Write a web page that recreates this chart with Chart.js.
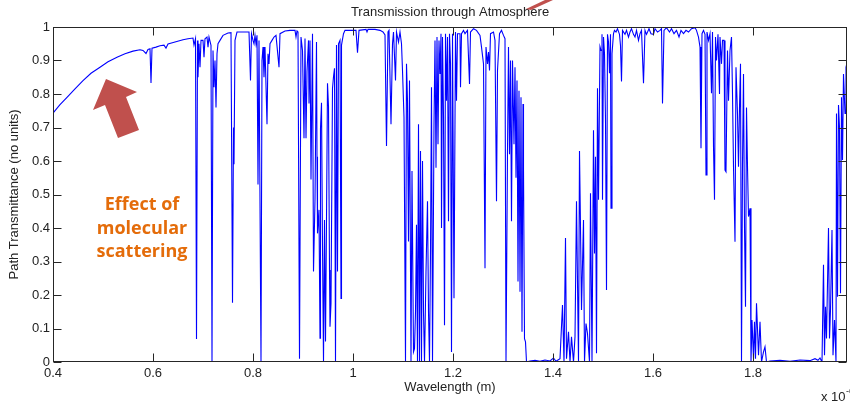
<!DOCTYPE html>
<html>
<head>
<meta charset="utf-8">
<script src="https://cdn.jsdelivr.net/npm/chart.js@4.4.0/dist/chart.umd.min.js"></script>
<style>
  html, body { margin: 0; padding: 0; background: #fff; }
  #wrap { position: relative; width: 850px; height: 402px; }
</style>
</head>
<body>
<div id="wrap"><canvas id="trans"></canvas></div>
<script>
// wavelength in micrometres (axis shows x 10^-6 m)
const wavelength = [
  0.400, 0.414, 0.428, 0.444, 0.460, 0.476, 0.494, 0.510, 0.528, 0.544, 0.560, 0.574, 0.580, 0.586,
  0.590, 0.594, 0.596, 0.598, 0.606, 0.614, 0.622, 0.626, 0.630, 0.644, 0.660, 0.670, 0.680,
  0.682, 0.685, 0.687, 0.689, 0.690, 0.692, 0.694, 0.696, 0.700, 0.702, 0.704, 0.708, 0.710, 0.712,
  0.716, 0.718, 0.720, 0.722, 0.724, 0.726, 0.728, 0.730, 0.734, 0.740, 0.750, 0.756, 0.759, 0.761, 0.762, 0.764,
  0.768, 0.784, 0.792, 0.795, 0.797, 0.800, 0.802, 0.804, 0.806, 0.808, 0.810, 0.812, 0.816,
  0.818, 0.820, 0.822, 0.824, 0.828, 0.830, 0.832, 0.834, 0.838, 0.842, 0.846, 0.852, 0.854,
  0.864, 0.874, 0.884, 0.886, 0.888, 0.890,
  0.893, 0.896, 0.899, 0.902, 0.904, 0.906, 0.908, 0.911, 0.912, 0.914, 0.916, 0.919,
  0.921, 0.924, 0.927, 0.928, 0.929, 0.932, 0.934, 0.935, 0.937, 0.939, 0.941, 0.943,
  0.945, 0.947, 0.949, 0.951, 0.953, 0.954, 0.956, 0.959, 0.961, 0.963, 0.965, 0.967,
  0.969, 0.971, 0.974, 0.976, 0.977, 0.981, 0.984,
  0.994, 1.006, 1.009, 1.012, 1.026, 1.028, 1.030, 1.044, 1.054, 1.060, 1.064,
  1.067, 1.070, 1.072, 1.076, 1.079, 1.081, 1.085, 1.087, 1.091, 1.094, 1.097, 1.099, 1.102,
  1.105, 1.107, 1.109, 1.111, 1.113, 1.116, 1.118, 1.121, 1.123, 1.125, 1.127, 1.129, 1.131,
  1.133, 1.135, 1.137, 1.139, 1.141, 1.143, 1.146, 1.149, 1.151, 1.153, 1.155, 1.157, 1.159,
  1.162, 1.164, 1.166, 1.168, 1.170, 1.172, 1.174, 1.176, 1.177, 1.179, 1.181, 1.183, 1.185,
  1.187, 1.189, 1.191, 1.193, 1.195, 1.197, 1.199, 1.202, 1.205, 1.207, 1.209, 1.214, 1.215, 1.217,
  1.221, 1.224, 1.229, 1.233, 1.235, 1.241, 1.247, 1.254, 1.257, 1.261, 1.264, 1.266, 1.269,
  1.271, 1.273, 1.275, 1.281, 1.284, 1.287, 1.289, 1.293, 1.297, 1.301, 1.304,
  1.306, 1.309, 1.311, 1.313, 1.315, 1.317, 1.319, 1.322, 1.324, 1.326, 1.328, 1.330,
  1.332, 1.334, 1.336, 1.338, 1.340, 1.341, 1.343, 1.345, 1.347,
  1.354, 1.364, 1.374, 1.384, 1.394, 1.401, 1.406, 1.414, 1.419, 1.422, 1.425, 1.427,
  1.431, 1.434, 1.437, 1.441, 1.444, 1.447, 1.451, 1.453, 1.455, 1.457, 1.461, 1.463,
  1.466, 1.469, 1.473, 1.475, 1.478, 1.481, 1.483, 1.485, 1.487, 1.489, 1.491,
  1.494, 1.496, 1.498, 1.499, 1.501, 1.503, 1.505, 1.507, 1.509, 1.511, 1.513, 1.515, 1.516, 1.518,
  1.521, 1.523, 1.526, 1.529, 1.533, 1.535, 1.537, 1.539, 1.544, 1.547, 1.551, 1.554, 1.557,
  1.561, 1.564, 1.567, 1.571, 1.574, 1.577, 1.581, 1.584, 1.587, 1.592, 1.596, 1.601, 1.604,
  1.609, 1.614, 1.617, 1.619, 1.622, 1.627, 1.633, 1.637, 1.642, 1.647, 1.652, 1.656, 1.661,
  1.666, 1.671, 1.677, 1.684, 1.687, 1.691, 1.694, 1.696, 1.698, 1.701, 1.704, 1.706, 1.708,
  1.711, 1.714, 1.717, 1.719, 1.721, 1.723, 1.725, 1.727, 1.730, 1.733, 1.734, 1.737, 1.739,
  1.742, 1.744, 1.746, 1.749, 1.751, 1.754, 1.757, 1.759, 1.761, 1.764, 1.766, 1.769, 1.771, 1.773,
  1.775, 1.777, 1.779, 1.781, 1.783, 1.785, 1.787, 1.789, 1.791, 1.794, 1.796, 1.798,
  1.801, 1.803, 1.805, 1.807, 1.811, 1.814, 1.817, 1.821, 1.824, 1.827,
  1.834, 1.854, 1.874, 1.894, 1.914, 1.924, 1.930, 1.934, 1.938,
  1.941, 1.943, 1.945, 1.947, 1.951, 1.953, 1.955, 1.958, 1.960, 1.963, 1.966,
  1.967, 1.969, 1.971, 1.973, 1.975, 1.977, 1.979, 1.981, 1.984, 1.986, 1.989
];

// path transmittance, same order as wavelength
const transmittance = [
  0.743, 0.768, 0.790, 0.815, 0.840, 0.862, 0.880, 0.896, 0.910, 0.920, 0.928, 0.932, 0.930, 0.921,
  0.933, 0.935, 0.833, 0.937, 0.940, 0.944, 0.946, 0.937, 0.949, 0.955, 0.962, 0.965, 0.967,
  0.946, 0.965, 0.069, 0.960, 0.850, 0.950, 0.880, 0.960, 0.960, 0.910, 0.965, 0.970, 0.940, 0.970,
  0.945, 0.000, 0.930, 0.820, 0.900, 0.760, 0.920, 0.950, 0.960, 0.975, 0.982, 0.983, 0.177, 0.700, 0.590, 0.960,
  0.985, 0.985, 0.985, 0.840, 0.980, 0.960, 0.950, 0.975, 0.950, 0.975, 0.530, 0.960, 0.000,
  0.900, 0.940, 0.850, 0.940, 0.710, 0.920, 0.890, 0.950, 0.960, 0.970, 0.975, 0.880, 0.980,
  0.988, 0.990, 0.990, 0.970, 0.988, 0.985,
  0.010, 0.970, 0.930, 0.668, 0.966, 0.668, 0.867, 0.960, 0.772, 0.960, 0.545, 0.980,
  0.270, 0.484, 0.955, 0.613, 0.384, 0.454, 0.071, 0.698, 0.774, 0.344, 0.000, 0.424,
  0.061, 0.424, 0.832, 0.762, 0.275, 0.105, 0.175, 0.817, 0.851, 0.877, 0.003, 0.946,
  0.270, 0.950, 0.960, 0.190, 0.946, 0.980, 0.990,
  0.990, 0.990, 0.923, 0.990, 0.993, 0.985, 0.993, 0.993, 0.990, 0.985, 0.976,
  0.645, 0.985, 0.990, 0.710, 0.950, 0.985, 0.840, 0.985, 0.955, 0.985, 0.950, 0.870, 0.730,
  0.000, 0.890, 0.780, 0.360, 0.840, 0.000, 0.570, 0.030, 0.040, 0.150, 0.410, 0.000, 0.710,
  0.000, 0.630, 0.000, 0.600, 0.150, 0.000, 0.270, 0.480, 0.150, 0.000, 0.330, 0.820, 0.000,
  0.710, 0.960, 0.580, 0.970, 0.650, 0.960, 0.860, 0.980, 0.400, 0.970, 0.730, 0.110, 0.980,
  0.780, 0.970, 0.420, 0.980, 0.890, 0.030, 0.980, 0.190, 0.985, 0.780, 0.980, 0.980, 0.820, 0.980,
  0.990, 0.980, 0.990, 0.830, 0.985, 0.995, 0.990, 0.975, 0.940, 0.890, 0.280, 0.940, 0.890,
  0.925, 0.870, 0.980, 0.985, 0.960, 0.480, 0.870, 0.980, 0.990, 0.975, 0.965,
  0.000, 0.630, 0.940, 0.620, 0.900, 0.420, 0.900, 0.650, 0.880, 0.550, 0.840, 0.240,
  0.810, 0.210, 0.790, 0.090, 0.770, 0.580, 0.070, 0.060, 0.000,
  0.003, 0.005, 0.002, 0.006, 0.003, 0.012, 0.002, 0.010, 0.170, 0.000, 0.370, 0.010,
  0.090, 0.000, 0.075, 0.000, 0.075, 0.480, 0.000, 0.630, 0.400, 0.155, 0.424, 0.000,
  0.115, 0.085, 0.000, 0.504, 0.000, 0.692, 0.324, 0.613, 0.026, 0.817, 0.484,
  0.941, 0.930, 0.978, 0.484, 0.970, 0.920, 0.722, 0.215, 0.978, 0.955, 0.862, 0.978, 0.459, 0.920,
  0.980, 0.990, 0.985, 0.995, 0.978, 0.945, 0.837, 0.990, 0.978, 0.990, 0.970, 0.985, 0.995,
  0.978, 0.970, 0.990, 0.960, 0.980, 0.990, 0.832, 0.990, 0.978, 0.995, 0.980, 0.978, 0.995,
  0.985, 0.990, 0.995, 0.772, 0.990, 0.998, 0.985, 0.995, 0.980, 0.990, 0.970, 0.990, 0.980,
  0.990, 0.985, 0.995, 0.998, 0.990, 0.970, 0.940, 0.638, 0.980, 0.990, 0.978, 0.558, 0.985,
  0.960, 0.980, 0.802, 0.985, 0.643, 0.484, 0.970, 0.900, 0.978, 0.800, 0.970, 0.890, 0.960,
  0.960, 0.573, 0.568, 0.930, 0.780, 0.930, 0.970, 0.800, 0.583, 0.359, 0.880, 0.740, 0.583, 0.760,
  0.890, 0.000, 0.590, 0.860, 0.404, 0.165, 0.760, 0.583, 0.434, 0.459, 0.000, 0.125,
  0.010, 0.120, 0.010, 0.175, 0.020, 0.120, 0.000, 0.030, 0.045, 0.000,
  0.003, 0.005, 0.002, 0.006, 0.004, 0.010, 0.005, 0.012, 0.000,
  0.290, 0.020, 0.165, 0.070, 0.400, 0.070, 0.155, 0.394, 0.020, 0.125, 0.000,
  0.742, 0.195, 0.767, 0.700, 0.205, 0.790, 0.603, 0.860, 0.742, 0.880, 0.900
];

const xTicks = [0.4, 0.6, 0.8, 1.0, 1.2, 1.4, 1.6, 1.8];
const xTickLabels = ["0.4", "0.6", "0.8", "1", "1.2", "1.4", "1.6", "1.8"];
const yTicks = [0, 0.1, 0.2, 0.3, 0.4, 0.5, 0.6, 0.7, 0.8, 0.9, 1];
const yTickLabels = ["0", "0.1", "0.2", "0.3", "0.4", "0.5", "0.6", "0.7", "0.8", "0.9", "1"];
const noteLines = ["Effect of", "molecular", "scattering"];

if (wavelength.length !== transmittance.length) {
  console.error("data length mismatch", wavelength.length, transmittance.length);
}

var points = wavelength.map((w, i) => ({ x: w, y: transmittance[i] }));
var axisFont = { family: "'Liberation Sans', Arial, sans-serif", size: 13 };

// matlab style frame, inward ticks and the slide annotations
var decorations = {
  id: "decorations",
  afterDatasetsDraw: function (chart) {
    var ctx = chart.ctx;
    var a = chart.chartArea;
    var xs = chart.scales.x;
    var ys = chart.scales.y;
    var L = Math.round(a.left) + 0.5, R = Math.round(a.right) - 0.5;
    var T = Math.round(a.top) + 0.5, B = Math.round(a.bottom) - 0.5;
    var tl = 8;
    ctx.save();
    ctx.strokeStyle = "#262626";
    ctx.lineWidth = 1;
    ctx.strokeRect(L, T, R - L, B - T);
    ctx.beginPath();
    xTicks.forEach(function (v) {
      var px = Math.round(xs.getPixelForValue(v)) + 0.5;
      ctx.moveTo(px, B); ctx.lineTo(px, B - tl);
      ctx.moveTo(px, T); ctx.lineTo(px, T + tl);
    });
    yTicks.forEach(function (v) {
      var py = Math.round(ys.getPixelForValue(v)) + 0.5;
      ctx.moveTo(L, py); ctx.lineTo(L + tl, py);
      ctx.moveTo(R, py); ctx.lineTo(R - tl, py);
    });
    ctx.stroke();
    ctx.restore();
  },
  afterDraw: function (chart) {
    var ctx = chart.ctx;
    var a = chart.chartArea;
    ctx.save();
    // title
    ctx.fillStyle = "#222";
    ctx.font = "13px 'Liberation Sans', Arial, sans-serif";
    ctx.textAlign = "center";
    ctx.textBaseline = "middle";
    ctx.fillText("Transmission through Atmosphere", (a.left + a.right) / 2, 12);

    // exponent note under the x axis
    ctx.textAlign = "left";
    ctx.textBaseline = "alphabetic";
    ctx.fillText("x 10", 821, 401);
    ctx.font = "9px 'Liberation Sans', Arial, sans-serif";
    ctx.fillText("-6", 846, 394);

    // red arrow pointing at the scattering curve
    ctx.fillStyle = "#C0504D";
    ctx.beginPath();
    ctx.moveTo(106, 79);
    ctx.lineTo(137, 92);
    ctx.lineTo(126, 97);
    ctx.lineTo(139, 130);
    ctx.lineTo(118, 138);
    ctx.lineTo(105, 105);
    ctx.lineTo(93, 110);
    ctx.closePath();
    ctx.fill();
    // tip of another arrow cut at the top edge
    ctx.beginPath();
    ctx.moveTo(526, 9);
    ctx.lineTo(545, 0);
    ctx.lineTo(553, 0);
    ctx.lineTo(531, 10);
    ctx.closePath();
    ctx.fill();

    // orange note
    ctx.fillStyle = "#E46C0A";
    ctx.font = "bold 18px 'Open Sans', 'DejaVu Sans', sans-serif";
    ctx.textAlign = "center";
    ctx.textBaseline = "middle";
    noteLines.forEach(function (t, i) {
      ctx.fillText(t, 142, 205 + i * 23.5);
    });
    ctx.restore();
  }
};

var ctx = document.getElementById("trans").getContext("2d");
var transChart = new Chart(ctx, {
  type: "line",
  data: {
    datasets: [
      {
        label: "Transmittance",
        data: points,
        borderColor: "#0000FF",
        borderWidth: 1.1,
        pointRadius: 0,
        tension: 0,
        fill: false,
      },
    ],
  },
  options: {
    responsive: true,
    maintainAspectRatio: false,
    animation: false,
    layout: {
      padding: { left: 0, right: 3, top: 27, bottom: 0 },
    },
    scales: {
      x: {
        type: "linear",
        min: 0.4,
        max: 1.988,
        afterBuildTicks: function (s) {
          s.ticks = xTicks.map((v) => ({ value: v }));
        },
        afterFit: function (s) {
          s.height = 40;
        },
        grid: { display: false, drawTicks: false },
        border: { display: false },
        ticks: {
          padding: 4,
          color: "#222",
          font: axisFont,
          maxRotation: 0,
          callback: function (value, index) {
            return xTickLabels[index];
          },
        },
        title: {
          display: true,
          text: "Wavelength (m)",
          color: "#222",
          font: axisFont,
          padding: { top: 0, bottom: 7 },
        },
      },
      y: {
        min: 0,
        max: 1,
        afterBuildTicks: function (s) {
          s.ticks = yTicks.map((v) => ({ value: v }));
        },
        afterFit: function (s) {
          s.width = 53;
        },
        grid: { display: false, drawTicks: false },
        border: { display: false },
        ticks: {
          padding: 3,
          color: "#222",
          font: axisFont,
          callback: function (value, index) {
            return yTickLabels[index];
          },
        },
        title: {
          display: true,
          text: "Path Transmittance (no units)",
          color: "#222",
          font: axisFont,
          padding: { top: 7, bottom: 0 },
        },
      },
    },
    plugins: {
      legend: { display: false },
      tooltip: { enabled: false },
    },
  },
  plugins: [decorations],
});
</script>
</body>
</html>
